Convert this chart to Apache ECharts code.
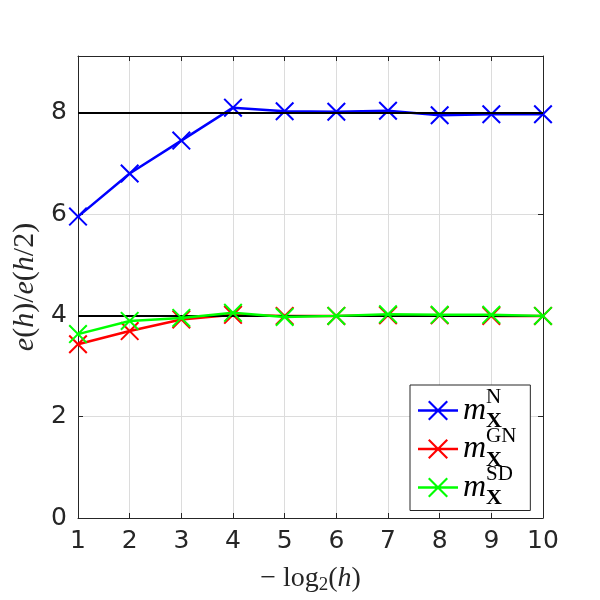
<!DOCTYPE html>
<html>
<head>
<meta charset="utf-8">
<script src="https://cdn.jsdelivr.net/npm/echarts@6/dist/echarts.min.js"></script>
<style>
  html, body { margin: 0; padding: 0; background: #fff; }
  #chart { width: 600px; height: 600px; }
</style>
</head>
<body>
<div id="chart"></div>
<script>
  // -log2(h) levels and error ratios e(h)/e(h/2)
  const levels = [1, 2, 3, 4, 5, 6, 7, 8, 9, 10];
  const ratioN = [5.95, 6.80, 7.45, 8.10, 8.03, 8.02, 8.04, 7.95, 7.97, 7.97];
  const ratioGN = [3.43, 3.69, 3.92, 4.01, 3.99, 3.99, 4.00, 4.00, 3.99, 3.99];
  const ratioSD = [3.63, 3.89, 3.95, 4.05, 3.97, 3.99, 4.02, 4.01, 4.01, 3.99];
  const refLevels = [4, 8];
  const yTicks = [0, 2, 4, 6, 8];

  const seriesNames = ['N', 'GN', 'SD'];
  const seriesColors = ['#0000ff', '#ff0000', '#00ff00'];
  const seriesData = [ratioN, ratioGN, ratioSD];

  const crossPath = 'path://M1.5,0L20,18.5L18.5,20L0,1.5Z M18.5,0L20,1.5L1.5,20L0,18.5Z';
  const legendPath = 'path://M11.5,0L30,18.5L28.5,20L10,1.5Z M28.5,0L30,1.5L11.5,20L10,18.5Z M0,8.75L40,8.75L40,11.25L0,11.25Z';

  const tickColor = '#262626';
  const gridColor = '#dcdcdc';

  const chart = echarts.init(document.getElementById('chart'), null, { renderer: 'canvas' });

  const series = seriesNames.map(function (name, k) {
    const s = {
      name: name,
      type: 'line',
      data: levels.map(function (x, i) { return [x, seriesData[k][i]]; }),
      symbol: crossPath,
      symbolSize: 19,
      showAllSymbol: true,
      lineStyle: { color: seriesColors[k], width: 2.5 },
      itemStyle: { color: seriesColors[k], borderWidth: 0 },
      z: 3 + k,
      animation: false
    };
    if (k === 0) {
      s.markLine = {
        silent: true,
        symbol: ['none', 'none'],
        label: { show: false },
        lineStyle: { color: '#000', width: 2, type: 'solid' },
        data: refLevels.map(function (v) { return { yAxis: v }; }),
        animation: false
      };
    }
    return s;
  });

  chart.setOption({
    backgroundColor: '#fff',
    animation: false,
    grid: { left: 78, right: 57, top: 56, bottom: 79, show: false },
    legend: {
      orient: 'vertical',
      left: 410,
      top: 385,
      padding: [2, 14, 1, 8],
      itemGap: -7,
      itemWidth: 40,
      itemHeight: 20,
      backgroundColor: '#fff',
      borderColor: tickColor,
      borderWidth: 1,
      borderRadius: 0,
      data: seriesNames.map(function (n) { return { name: n, icon: legendPath }; }),
      itemStyle: { borderWidth: 0 },
      formatter: function (name) {
        return '{w| }{s|' + name + '}\n{m|m}{x|X}\n{e| }';
      },
      textStyle: {
        color: '#000',
        rich: {
          w: { width: 23, lineHeight: 14 },
          s: { fontFamily: 'Liberation Serif', fontSize: 21, lineHeight: 14, color: '#000' },
          m: { fontFamily: 'Liberation Serif', fontStyle: 'italic', fontSize: 32, lineHeight: 12, color: '#000' },
          x: { fontFamily: 'Liberation Serif', fontWeight: 'bold', fontSize: 22, lineHeight: 12, padding: [22, 0, 0, 0], color: '#000' },
          e: { fontSize: 10, lineHeight: 14 }
        }
      }
    },
    xAxis: [{
      type: 'value',
      min: 1,
      max: 10,
      interval: 1,
      position: 'bottom',
      name: '{n|\u2212 log}{s|2}{n|(}{i|h}{n|)}',
      nameLocation: 'middle',
      nameGap: 44,
      nameTextStyle: {
        rich: {
          n: { fontFamily: 'Liberation Serif', fontSize: 28, color: tickColor },
          i: { fontFamily: 'Liberation Serif', fontStyle: 'italic', fontSize: 28, color: tickColor },
          s: { fontFamily: 'Liberation Serif', fontSize: 19, padding: [14, 0, 0, 0], color: tickColor }
        }
      },
      axisLine: { show: true, onZero: false, lineStyle: { color: tickColor, width: 1 } },
      axisTick: { show: true, inside: true, length: 5, lineStyle: { color: tickColor } },
      axisLabel: { color: tickColor, fontFamily: 'DejaVu Sans', fontSize: 25, margin: 11 },
      splitLine: { show: true, lineStyle: { color: gridColor, width: 1 } }
    }, {
      type: 'value',
      min: 1,
      max: 10,
      interval: 1,
      position: 'top',
      axisLine: { show: true, onZero: false, lineStyle: { color: tickColor, width: 1 } },
      axisTick: { show: true, inside: true, length: 5, lineStyle: { color: tickColor } },
      axisLabel: { show: false },
      splitLine: { show: false }
    }],
    yAxis: [{
      type: 'value',
      min: yTicks[0],
      max: 9.12,
      interval: 2,
      position: 'left',
      name: '{i|e}{n|(}{i|h}{n|)/}{i|e}{n|(}{i|h}{n|/2)}',
      nameLocation: 'middle',
      nameGap: 35,
      nameTextStyle: {
        rich: {
          n: { fontFamily: 'Liberation Serif', fontSize: 30, color: tickColor },
          i: { fontFamily: 'Liberation Serif', fontStyle: 'italic', fontSize: 30, color: tickColor }
        }
      },
      axisLine: { show: true, onZero: false, lineStyle: { color: tickColor, width: 1 } },
      axisTick: { show: true, inside: true, length: 5, lineStyle: { color: tickColor } },
      axisLabel: { color: tickColor, fontFamily: 'DejaVu Sans', fontSize: 25, margin: 11, showMaxLabel: false },
      splitLine: { show: true, lineStyle: { color: gridColor, width: 1 } }
    }, {
      type: 'value',
      min: yTicks[0],
      max: 9.12,
      interval: 2,
      position: 'right',
      axisLine: { show: true, onZero: false, lineStyle: { color: tickColor, width: 1 } },
      axisTick: { show: true, inside: true, length: 5, lineStyle: { color: tickColor } },
      axisLabel: { show: false },
      splitLine: { show: false }
    }],
    series: series
  });
</script>
</body>
</html>
